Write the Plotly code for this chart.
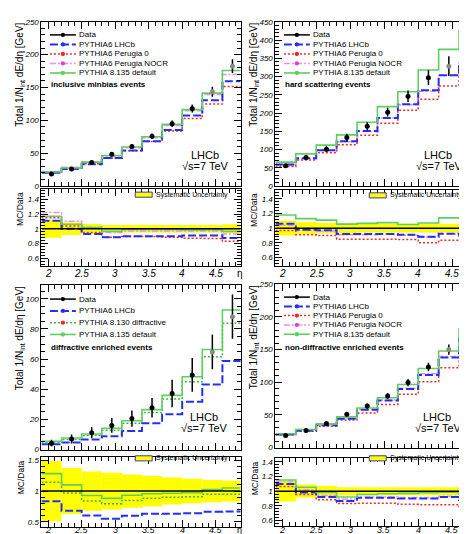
import numpy as np
import plotly.graph_objects as go

W, H = 467, 534
FONT = "Liberation Sans"

# ---------------- data ----------------
eta_edges = [1.9, 2.2, 2.5, 2.8, 3.1, 3.4, 3.7, 4.0, 4.3, 4.6, 4.9]
eta_centers = [2.05, 2.35, 2.65, 2.95, 3.25, 3.55, 3.85, 4.15, 4.45, 4.75]
x_ticks = [2, 2.5, 3, 3.5, 4, 4.5]
x_ticktext = ["2", "2.5", "3", "3.5", "4", "4.5"]

# inclusive minbias
mb_data = [18.2, 25.8, 35.8, 48.2, 60.0, 75.8, 94.8, 118.0, 143.5, 182.5]
mb_err = [2.0, 2.0, 2.5, 3.0, 3.5, 4.0, 5.0, 6.0, 7.5, 10.5]
mb_lhcb = [20.2, 25.8, 33.3, 42.7, 54.0, 68.2, 85.3, 107.4, 130.6, 159.7]
mb_per0 = [20.9, 26.8, 34.0, 42.7, 53.7, 67.8, 83.9, 102.7, 124.8, 151.5]
mb_nocr = [22.2, 28.4, 36.5, 45.8, 58.2, 73.5, 92.0, 114.5, 139.2, 169.7]
mb_p8 = [21.3, 27.4, 36.4, 46.5, 59.4, 75.0, 93.9, 116.3, 141.5, 176.0]
mb_syst = [0.12, 0.085, 0.065, 0.05, 0.05, 0.05, 0.05, 0.05, 0.05, 0.06]

# hard scattering
hs_data = [55.5, 78.0, 101.0, 133.0, 164.0, 202.5, 246.0, 297.0, 328.5, 376.0]
hs_err = [5, 7, 8, 10, 11, 12, 16, 20, 27, 18]
hs_lhcb = [58.8, 76.4, 98.0, 122.4, 150.9, 186.3, 223.9, 262.8, 303.9, 338.4]
hs_per0 = [53.8, 71.0, 90.9, 113.1, 139.4, 172.1, 207.9, 237.6, 274.3, 310.2]
hs_nocr = [57.7, 75.7, 97.0, 121.0, 149.2, 186.3, 222.6, 259.9, 303.9, 340.3]
hs_p8 = [65.5, 88.1, 112.1, 140.3, 174.7, 217.7, 258.3, 317.8, 374.5, 426.8]
hs_syst = [0.10, 0.085, 0.07, 0.065, 0.06, 0.06, 0.06, 0.06, 0.06, 0.06]

# diffractive enriched
df_data = [4.2, 6.9, 11.1, 16.0, 20.5, 27.7, 37.2, 49.5, 64.8, 88.2]
df_err = [2.2, 3.0, 3.6, 4.9, 5.4, 6.5, 9.1, 11.2, 11.6, 14.7]
df_lhcb = [3.5, 4.7, 6.7, 8.8, 12.3, 17.5, 23.4, 31.7, 43.1, 58.7]
df_p8130 = [4.8, 6.7, 9.3, 12.7, 17.4, 24.5, 33.5, 45.0, 61.6, 83.8]
df_p8 = [5.4, 7.6, 10.3, 14.1, 19.1, 26.5, 35.9, 48.3, 66.4, 92.6]
df_syst = [0.49, 0.375, 0.32, 0.30, 0.27, 0.245, 0.22, 0.20, 0.18, 0.17]

# non-diffractive enriched
nd_data = [18.3, 26.2, 37.0, 51.0, 63.5, 79.0, 99.5, 123.5, 150.0, 190.0]
nd_err = [2.0, 2.5, 3.0, 3.5, 4.0, 4.5, 5.5, 6.5, 8.0, 10.0]
nd_lhcb = [20.1, 25.7, 34.0, 44.1, 57.8, 71.9, 89.6, 111.2, 138.0, 167.2]
nd_per0 = [19.5, 25.0, 32.6, 42.3, 53.0, 66.0, 81.6, 100.7, 122.3, 150.1]
nd_nocr = [20.7, 26.7, 34.8, 45.6, 58.4, 72.7, 91.0, 113.0, 139.5, 169.1]
nd_p8 = [21.1, 27.6, 36.3, 46.9, 60.6, 76.2, 96.5, 121.0, 147.8, 181.5]
nd_syst = [0.14, 0.09, 0.07, 0.055, 0.055, 0.055, 0.055, 0.055, 0.055, 0.055]

# ---------------- styles ----------------
ST = {
    "lhcb": dict(color="#2430f0", dash="8px,3px", width=2.0, name="PYTHIA6 LHCb", mk="#2430f0"),
    "per0": dict(color="#ee2a2a", dash="2px,2px", width=1.5, name="PYTHIA6 Perugia 0", mk="#ee2a2a"),
    "nocr": dict(color="#f08cf0", dash="6px,2px,2px,2px", width=1.5, name="PYTHIA6 Perugia NOCR", mk="#e040e0"),
    "p8": dict(color="#5fcf5f", dash="solid", width=1.6, name="PYTHIA 8.135 default", mk="#5fcf5f"),
    "p8130": dict(color="#44b044", dash="2px,2px", width=1.5, name="PYTHIA 8.130 diffractive", mk="#ee2a2a"),
}

panels = [
    dict(x=(33.5, 233), main=(10, 177), ratio=(180, 258), xr=[1.9, 4.87], yr=[0, 250], ydt=50, ymin=10,
         rr=[0.5, 1.54], rdt=0.2, rmin=0.04, data=mb_data, err=mb_err, syst=mb_syst,
         mc=[("nocr", mb_nocr), ("per0", mb_per0), ("lhcb", mb_lhcb), ("p8", mb_p8)],
         leg=["lhcb", "per0", "nocr", "p8"], label="inclusive minbias events", rows=[23.3, 33.0, 42.7, 52.3, 62.0], lab_y=74,
         lhcb_xy=(197, 145), syst_y=185.8, lab_top=259.5, eta=True),
    dict(x=(268, 467), main=(10, 177), ratio=(181, 258), xr=[1.9, 4.82], yr=[0, 450], ydt=50, ymin=10,
         rr=[0.49, 1.52], rdt=0.2, rmin=0.04, data=hs_data, err=hs_err, syst=hs_syst,
         mc=[("nocr", hs_nocr), ("per0", hs_per0), ("lhcb", hs_lhcb), ("p8", hs_p8)],
         leg=["lhcb", "per0", "nocr", "p8"], label="hard scattering events", rows=[23.3, 33.0, 42.7, 52.3, 62.0], lab_y=74,
         lhcb_xy=(431, 145), syst_y=186.5, lab_top=259.5, eta=False),
    dict(x=(33.5, 233), main=(278, 445), ratio=(453, 523.5), xr=[1.9, 4.87], yr=[0, 109], ydt=20, ymin=5,
         rr=[0.42, 1.55], rdt=0.5, rmin=0.1, data=df_data, err=df_err, syst=df_syst,
         mc=[("lhcb", df_lhcb), ("p8130", df_p8130), ("p8", df_p8)],
         leg=["lhcb", "p8130", "p8"], label="diffractive enriched events", rows=[292, 304, 316, 328], lab_y=341,
         lhcb_xy=(196, 412), syst_y=454, lab_top=None, eta=True),
    dict(x=(268, 467), main=(277, 443), ratio=(454, 523), xr=[1.9, 4.82], yr=[0, 250], ydt=50, ymin=10,
         rr=[0.52, 1.45], rdt=0.2, rmin=0.04, data=nd_data, err=nd_err, syst=nd_syst,
         mc=[("nocr", nd_nocr), ("per0", nd_per0), ("lhcb", nd_lhcb), ("p8", nd_p8)],
         leg=["lhcb", "per0", "nocr", "p8"], label="non-diffractive enriched events", rows=[290, 299.5, 308.8, 318.3, 327.8], lab_y=341.5,
         lhcb_xy=(430, 412), syst_y=454, lab_top=None, eta=False),
]


def P(x, y):
    return x / W, 1 - y / H


def dom_x(a, b):
    return [a / W, min(b / W, 1.0)]


def dom_y(top, bot):
    return [1 - bot / H, 1 - top / H]


fig = go.Figure()
shapes, annotations = [], []
layout = {}

ax_common = dict(showline=True, linecolor="black", linewidth=1, mirror="allticks", ticks="inside",
                 ticklen=7, tickwidth=1, tickcolor="black", showgrid=False, zeroline=False,
                 fixedrange=True)


def step_y(vals):
    return list(vals) + [vals[-1]]


for k, p in enumerate(panels):
    im, ir = 2 * k + 1, 2 * k + 2
    sm = "" if im == 1 else str(im)
    sr = str(ir)
    xa_m, ya_m, xa_r, ya_r = "x" + sm, "y" + sm, "x" + sr, "y" + sr

    layout["xaxis" + sm] = dict(ax_common, domain=dom_x(*p["x"]), range=p["xr"], anchor=ya_m,
                                tickvals=x_ticks, showticklabels=False,
                                minor=dict(ticks="inside", ticklen=4, dtick=0.1, tick0=2, tickcolor="black"))
    layout["yaxis" + sm] = dict(ax_common, domain=dom_y(*p["main"]), range=p["yr"], anchor=xa_m,
                                dtick=p["ydt"], tick0=0,
                                tickfont=dict(family=FONT, size=8, style="italic", color="black"),
                                minor=dict(ticks="inside", ticklen=4, dtick=p["ymin"], tick0=0, tickcolor="black"))
    layout["xaxis" + sr] = dict(ax_common, domain=dom_x(*p["x"]), range=p["xr"], anchor=ya_r,
                                tickvals=x_ticks, showticklabels=False,
                                minor=dict(ticks="inside", ticklen=4, dtick=0.1, tick0=2, tickcolor="black"))
    layout["yaxis" + sr] = dict(ax_common, domain=dom_y(*p["ratio"]), range=p["rr"], anchor=xa_r,
                                dtick=p["rdt"], tick0=0,
                                tickfont=dict(family=FONT, size=8, style="italic", color="black"),
                                minor=dict(ticks="inside", ticklen=4, dtick=p["rmin"], tick0=0, tickcolor="black"))

    # x tick labels of ratio pad (as text, tightly placed like ROOT)
    if p["lab_top"] is not None:
        ly_, yanc, fs = 1 - p["lab_top"] / H, "top", 10
    else:
        ly_, yanc, fs = 1.5 / H, "bottom", 9
    for tv, tt in zip(x_ticks, x_ticktext):
        annotations.append(dict(xref=xa_r, yref="paper", x=tv, y=ly_, xanchor="center",
                                yanchor=yanc, text=tt, showarrow=False, borderpad=0,
                                font=dict(family=FONT, size=fs, style="italic", color="black")))
    if p["eta"]:
        annotations.append(dict(xref="paper", yref="paper", x=232 / W, y=ly_,
                                xanchor="center", yanchor=yanc, text="η", showarrow=False, borderpad=0,
                                font=dict(family=FONT, size=fs, color="black")))

    data = np.array(p["data"], dtype=float)
    syst = np.array(p["syst"], dtype=float)

    # systematic band in ratio
    fig.add_trace(go.Bar(x=eta_centers, y=2 * syst, base=1 - syst, width=0.3,
                         marker=dict(color="#ffff00", line=dict(width=0)),
                         xaxis=xa_r, yaxis=ya_r, hoverinfo="skip"))

    for key, vals in p["mc"]:
        st = ST[key]
        ln = dict(color=st["color"], dash=st["dash"], width=st["width"], shape="hv")
        fig.add_trace(go.Scatter(x=eta_edges, y=step_y(vals), mode="lines", line=ln,
                                 xaxis=xa_m, yaxis=ya_m))
        ratio = np.array(vals, dtype=float) / data
        fig.add_trace(go.Scatter(x=eta_edges, y=step_y(ratio), mode="lines", line=ln,
                                 xaxis=xa_r, yaxis=ya_r))

    mcols = ["black"] * 8 + ["#8a8a8a"] * 2
    fig.add_trace(go.Scatter(x=eta_centers, y=p["data"], mode="markers",
                             marker=dict(color=mcols, size=5),
                             error_y=dict(type="data", array=p["err"], color="black", thickness=1.5, width=0),
                             xaxis=xa_m, yaxis=ya_m))

    # unity line in ratio
    shapes.append(dict(type="line", xref=xa_r + " domain", yref=ya_r, x0=0, x1=1, y0=1, y1=1,
                       line=dict(color="black", width=1.5), layer="above"))

    # legend (drawn manually)
    x0 = p["x"][0]
    lx0, lx1, tx = x0 + 8.5, x0 + 34.5, x0 + 37
    entries = [("Data", "black", "solid", 1.5, "black")]
    for key in p["leg"]:
        st = ST[key]
        entries.append((st["name"], st["color"], st["dash"], st["width"], st["mk"]))
    for (txt, col, dash, wd, mk), yy in zip(entries, p["rows"]):
        a, b = P(lx0, yy)
        c, _ = P(lx1, yy)
        shapes.append(dict(type="line", xref="paper", yref="paper", x0=a, x1=c, y0=b, y1=b,
                           line=dict(color=col, dash=dash, width=wd)))
        xm = (lx0 + lx1) / 2
        m0 = P(xm - 2.2, yy + 2.2)
        m1 = P(xm + 2.2, yy - 2.2)
        shapes.append(dict(type="circle", xref="paper", yref="paper", x0=m0[0], y0=m0[1], x1=m1[0], y1=m1[1],
                           fillcolor=mk, line=dict(width=0)))
        ax_, ay_ = P(tx, yy)
        annotations.append(dict(xref="paper", yref="paper", x=ax_, y=ay_, xanchor="left", yanchor="middle",
                                text=txt, showarrow=False, borderpad=0,
                                font=dict(family=FONT, size=8, color="black")))
    ax_, ay_ = P(lx0, p["lab_y"])
    annotations.append(dict(xref="paper", yref="paper", x=ax_, y=ay_, xanchor="left", yanchor="middle",
                            text="<b>" + p["label"] + "</b>", showarrow=False, borderpad=0,
                            font=dict(family=FONT, size=8, color="black")))

    # LHCb label
    lx, ly = p["lhcb_xy"]
    ax_, ay_ = P(lx, ly)
    annotations.append(dict(xref="paper", yref="paper", x=ax_, y=ay_, xanchor="center", yanchor="middle",
                            text="LHCb", showarrow=False, borderpad=0,
                            font=dict(family=FONT, size=11, color="black")))
    ax_, ay_ = P(lx + 1, ly + 11.5)
    annotations.append(dict(xref="paper", yref="paper", x=ax_, y=ay_, xanchor="center", yanchor="middle",
                            text="√s=7 TeV", showarrow=False, borderpad=0,
                            font=dict(family=FONT, size=11, color="black")))

    # systematic legend in ratio
    sx0 = x0 + 94
    sy = p["syst_y"]
    a, b = P(sx0, sy - 2.6)
    c, d = P(sx0 + 17, sy + 2.6)
    shapes.append(dict(type="rect", xref="paper", yref="paper", x0=a, y0=d, x1=c, y1=b,
                       fillcolor="#ffff00", line=dict(color="#3a3aa0", width=1)))
    ax_, ay_ = P(sx0 + 20, sy)
    annotations.append(dict(xref="paper", yref="paper", x=ax_, y=ay_, xanchor="left", yanchor="middle",
                            text="Systematic Uncertainty", showarrow=False, borderpad=0,
                            font=dict(family=FONT, size=7, color="black")))

    # axis titles
    ax_, ay_ = P(x0 - 21.5, p["main"][0])
    annotations.append(dict(xref="paper", yref="paper", x=ax_, y=ay_, xanchor="center", yanchor="top",
                            text="Total 1/N<sub>int</sub> dE/dη [GeV]", textangle=-90, showarrow=False, borderpad=0,
                            font=dict(family=FONT, size=10, color="black")))
    ax_, ay_ = P(x0 - 21, p["ratio"][0] + 1.5)
    annotations.append(dict(xref="paper", yref="paper", x=ax_, y=ay_, xanchor="center", yanchor="top",
                            text="MC/Data", textangle=-90, showarrow=False, borderpad=0,
                            font=dict(family=FONT, size=8.5, color="black")))

fig.update_layout(**layout)
fig.update_layout(width=W, height=H, margin=dict(l=0, r=0, t=0, b=0), showlegend=False,
                  plot_bgcolor="white", paper_bgcolor="white", shapes=shapes, annotations=annotations,
                  barmode="overlay")
fig.write_html("out.html")
